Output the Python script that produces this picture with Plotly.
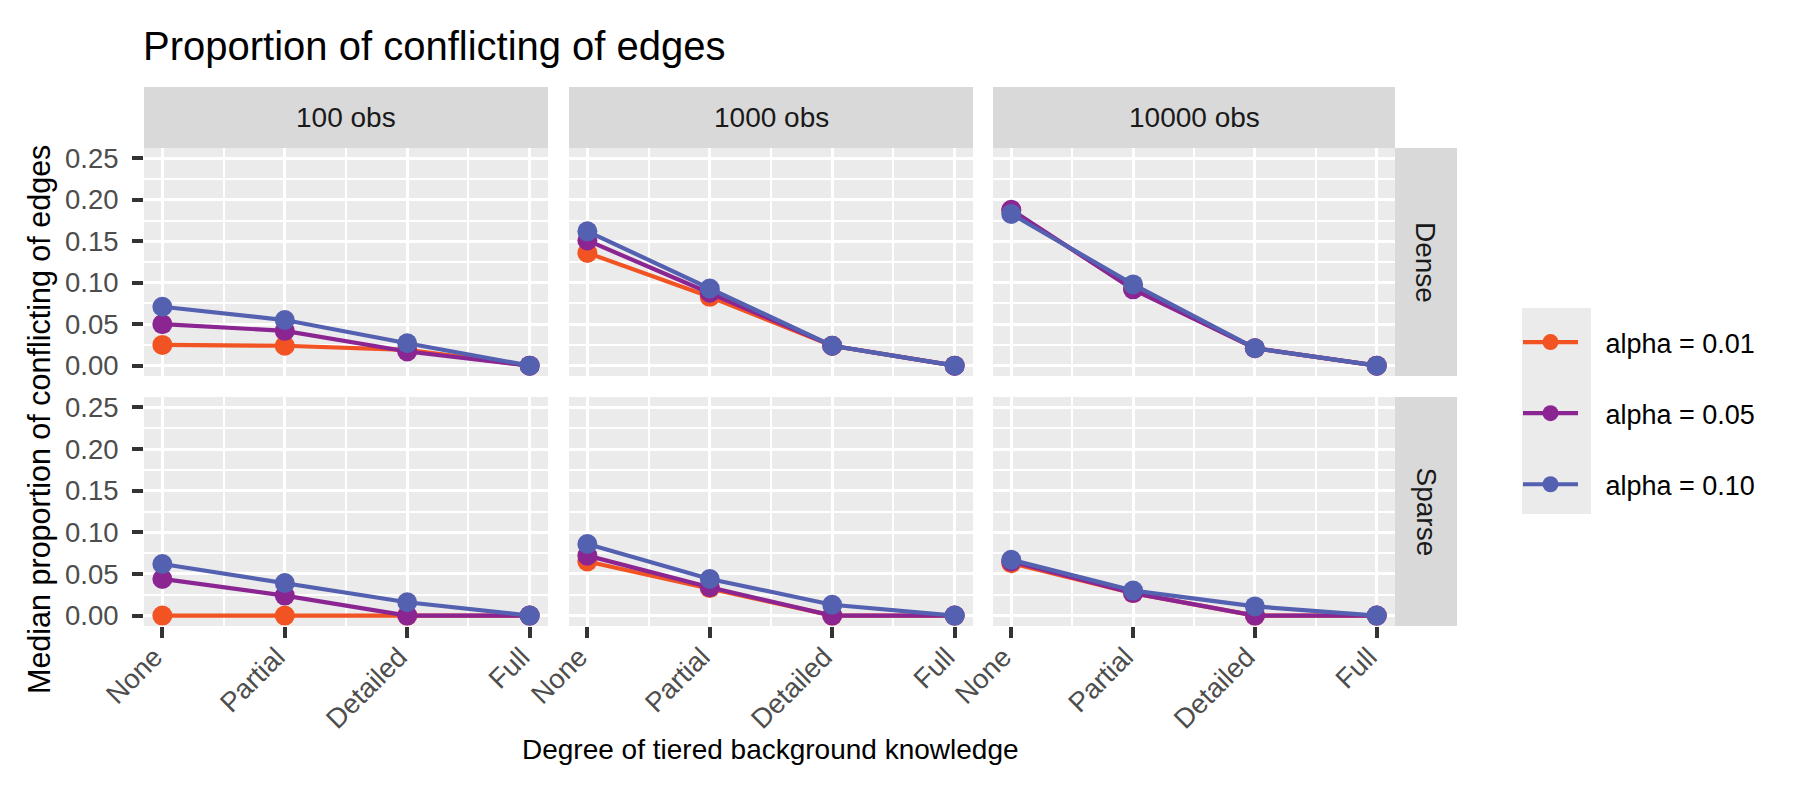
import plotly.graph_objects as go

W, H = 1800, 787

knowledge = ["None", "Partial", "Detailed", "Full"]
obs_levels = ["100 obs", "1000 obs", "10000 obs"]
density = ["Dense", "Sparse"]
alpha_names = ["alpha = 0.01", "alpha = 0.05", "alpha = 0.10"]
alpha_colors = ["#F25322", "#8B2592", "#5461B1"]
y_ticks = [0.0, 0.05, 0.10, 0.15, 0.20, 0.25]

# one row per obs level (100, 1000, 10000), values for None/Partial/Detailed/Full
a01_dense = [[0.025, 0.024, 0.019, 0.0], [0.136, 0.083, 0.024, 0.0], [0.187, 0.093, 0.021, 0.0]]
a05_dense = [[0.050, 0.042, 0.017, 0.0], [0.151, 0.088, 0.024, 0.0], [0.188, 0.092, 0.021, 0.0]]
a10_dense = [[0.071, 0.055, 0.027, 0.0], [0.162, 0.093, 0.024, 0.0], [0.183, 0.098, 0.021, 0.0]]
a01_sparse = [[0.0, 0.0, 0.0, 0.0], [0.065, 0.033, 0.0, 0.0], [0.063, 0.027, 0.0, 0.0]]
a05_sparse = [[0.044, 0.024, 0.0, 0.0], [0.072, 0.034, 0.0, 0.0], [0.065, 0.027, 0.0, 0.0]]
a10_sparse = [[0.062, 0.039, 0.016, 0.0], [0.086, 0.044, 0.013, 0.0], [0.067, 0.030, 0.011, 0.0]]

panel_data = {
    "Dense": [a01_dense, a05_dense, a10_dense],
    "Sparse": [a01_sparse, a05_sparse, a10_sparse],
}

FONT = "Liberation Sans"
NBSP = "\u00a0"

# pixel layout of the facet grid
col_px = [(136, 540), (561, 965), (985, 1387)]
row_px = [(140, 368), (389, 618)]
strip_top = (79, 140)
strip_right = (1387, 1449)


def px_x(v):
    return v / W


def px_y(v):
    return 1 - v / H


fig = go.Figure()
layout = {}
shapes = []
annotations = []

for r, dens in enumerate(density):
    for c, obs in enumerate(obs_levels):
        k = r * 3 + c + 1
        xname = "x" if k == 1 else "x%d" % k
        yname = "y" if k == 1 else "y%d" % k
        for a in range(3):
            fig.add_trace(go.Scatter(
                x=[1, 2, 3, 4],
                y=panel_data[dens][a][c],
                mode="lines+markers",
                # a little padding so the label sits clear of the key box, like ggplot
                name=NBSP * 3 + alpha_names[a],
                legendgroup=alpha_names[a],
                showlegend=(k == 1),
                line=dict(color=alpha_colors[a], width=4.2),
                marker=dict(color=alpha_colors[a], size=20),
                xaxis=xname, yaxis=yname,
            ))
        bottom = r == 1
        left = c == 0
        layout["xaxis" if k == 1 else "xaxis%d" % k] = dict(
            domain=[px_x(col_px[c][0]), px_x(col_px[c][1])],
            anchor=yname, range=[0.85, 4.15],
            tickmode="array", tickvals=[1, 2, 3, 4], ticktext=knowledge,
            showticklabels=bottom, ticks="outside" if bottom else "",
            ticklen=11, tickwidth=3.5, tickcolor="#333333", tickangle=-45,
            ticklabelstandoff=-8, ticklabelshift=-8,
            tickfont=dict(family=FONT, size=27.5, color="#4D4D4D"),
            showgrid=True, gridcolor="white", gridwidth=3.4,
            minor=dict(tickvals=[1.5, 2.5, 3.5], showgrid=True, gridcolor="white", gridwidth=1.7),
            zeroline=False, showline=False, automargin=False, fixedrange=True,
        )
        layout["yaxis" if k == 1 else "yaxis%d" % k] = dict(
            domain=[px_y(row_px[r][1]), px_y(row_px[r][0])],
            anchor=xname, range=[-0.0125, 0.2625],
            tickmode="array", tickvals=y_ticks, ticktext=["%.2f" % v for v in y_ticks],
            showticklabels=left, ticks="outside" if left else "",
            ticklen=11, tickwidth=3.5, tickcolor="#333333", ticklabelstandoff=8,
            tickfont=dict(family=FONT, size=27.5, color="#4D4D4D"),
            showgrid=True, gridcolor="white", gridwidth=3.4,
            minor=dict(dtick=0.025, tick0=0, showgrid=True, gridcolor="white", gridwidth=1.7),
            zeroline=False, showline=False, automargin=False, fixedrange=True,
        )

# strips on top
for c, obs in enumerate(obs_levels):
    shapes.append(dict(type="rect", xref="paper", yref="paper",
                       x0=px_x(col_px[c][0]), x1=px_x(col_px[c][1]),
                       y0=px_y(strip_top[1]), y1=px_y(strip_top[0]),
                       fillcolor="#D9D9D9", line=dict(width=0), layer="below"))
    annotations.append(dict(text=obs, xref="paper", yref="paper", showarrow=False,
                            x=px_x((col_px[c][0] + col_px[c][1]) / 2),
                            y=px_y(sum(strip_top) / 2),
                            xanchor="center", yanchor="middle",
                            font=dict(family=FONT, size=28, color="#1A1A1A")))

# strips on the right
for r, dens in enumerate(density):
    shapes.append(dict(type="rect", xref="paper", yref="paper",
                       x0=px_x(strip_right[0]), x1=px_x(strip_right[1]),
                       y0=px_y(row_px[r][1]), y1=px_y(row_px[r][0]),
                       fillcolor="#D9D9D9", line=dict(width=0), layer="below"))
    annotations.append(dict(text=dens, xref="paper", yref="paper", showarrow=False,
                            x=px_x(sum(strip_right) / 2),
                            y=px_y(sum(row_px[r]) / 2), textangle=90,
                            xanchor="center", yanchor="middle",
                            font=dict(family=FONT, size=28, color="#1A1A1A")))

# legend key background
shapes.append(dict(type="rect", xref="paper", yref="paper",
                   x0=px_x(1514), x1=px_x(1583), y0=px_y(506), y1=px_y(300),
                   fillcolor="#EBEBEB", line=dict(width=0), layer="below"))

# axis titles
annotations.append(dict(text="Median proportion of conflicting of edges", xref="paper", yref="paper",
                        showarrow=False, x=px_x(31), y=px_y(412), textangle=-90,
                        xanchor="center", yanchor="middle",
                        font=dict(family=FONT, size=30.5, color="black")))
annotations.append(dict(text="Degree of tiered background knowledge", xref="paper", yref="paper",
                        showarrow=False, x=px_x(762), y=px_y(741),
                        xanchor="center", yanchor="middle",
                        font=dict(family=FONT, size=28, color="black")))

fig.update_layout(
    width=W, height=H,
    margin=dict(l=0, r=0, t=0, b=0),
    paper_bgcolor="white", plot_bgcolor="#EBEBEB",
    title=dict(text="Proportion of conflicting of edges", xref="container", yref="container",
               x=px_x(135), xanchor="left", y=px_y(38), yanchor="middle",
               font=dict(family=FONT, size=40, color="black")),
    legend=dict(x=px_x(1510), xanchor="left", y=px_y(310), yanchor="top",
                bgcolor="rgba(0,0,0,0)", tracegroupgap=33, itemwidth=55,
                font=dict(family=FONT, size=27, color="black")),
    shapes=shapes, annotations=annotations,
    **layout,
)

fig.write_html("out.html")
